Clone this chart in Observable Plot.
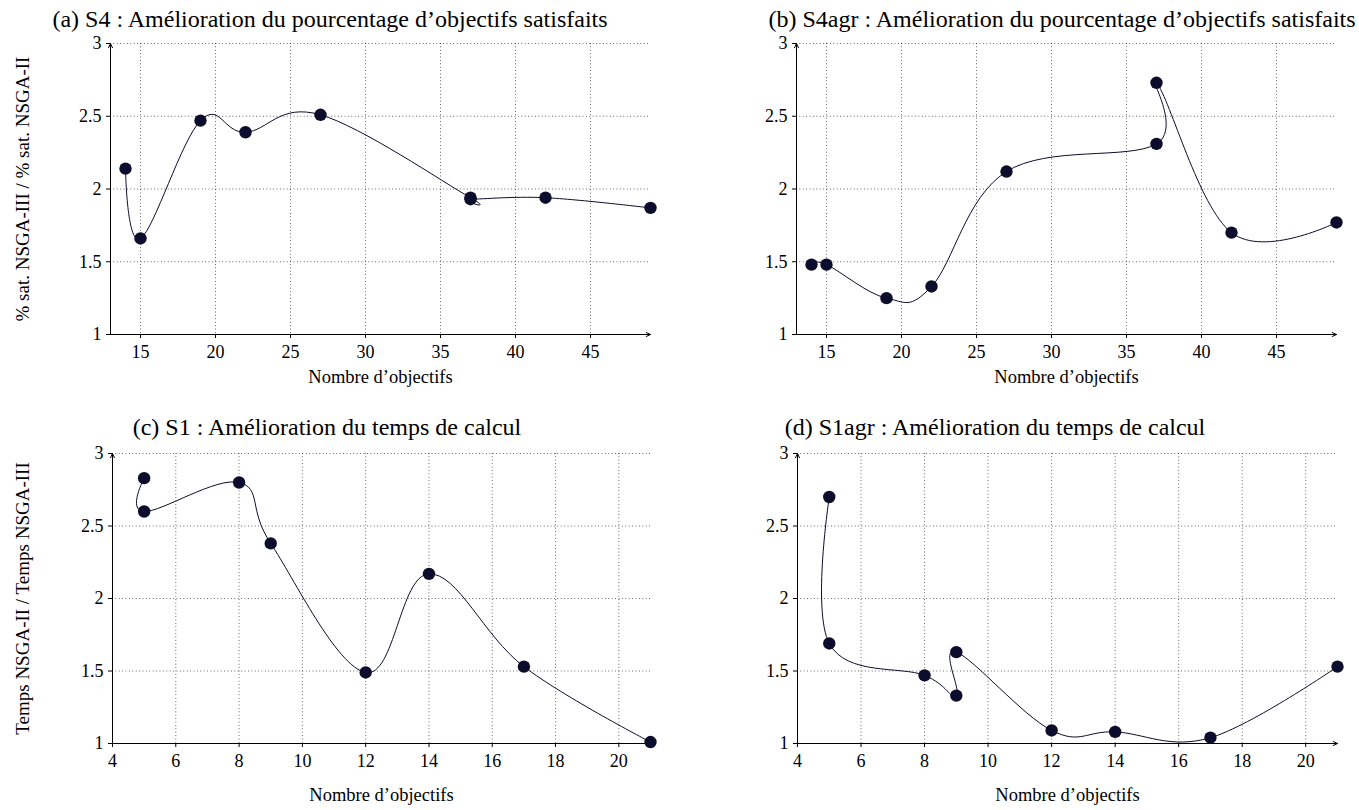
<!DOCTYPE html>
<html><head><meta charset="utf-8">
<script src="https://cdn.jsdelivr.net/npm/d3@7"></script>
<script src="https://cdn.jsdelivr.net/npm/@observablehq/plot@0.6"></script>
<style>
html,body{margin:0;padding:0;background:#fff;}
body{width:1359px;height:810px;position:relative;overflow:hidden;font-family:"Liberation Serif","Times New Roman",serif;color:#000;}
.panel{position:absolute;}
.title{position:absolute;font-size:24px;line-height:24px;white-space:nowrap;transform:translateX(-50%);}
</style></head><body>
<script>
// ---- data ----
const titles = [
  "(a) S4 : Amélioration du pourcentage d’objectifs satisfaits",
  "(b) S4agr : Amélioration du pourcentage d’objectifs satisfaits",
  "(c) S1 : Amélioration du temps de calcul",
  "(d) S1agr : Amélioration du temps de calcul"
];
const xLabel = "Nombre d’objectifs";
const yLabelTop = "% sat. NSGA-III / % sat. NSGA-II";
const yLabelBottom = "Temps NSGA-II / Temps NSGA-III";

const aX = [14, 15, 19, 22, 27, 37, 37, 42, 49];
const aY = [2.14, 1.66, 2.47, 2.39, 2.51, 1.94, 1.93, 1.94, 1.87];

const bX = [14, 15, 19, 22, 27, 37, 37, 42, 49];
const bY = [1.48, 1.48, 1.25, 1.33, 2.12, 2.31, 2.73, 1.70, 1.77];

const cX = [5, 5, 8, 9, 12, 14, 17, 21];
const cY = [2.83, 2.60, 2.80, 2.38, 1.49, 2.17, 1.53, 1.01];

const dX = [5, 5, 8, 9, 9, 12, 14, 17, 21];
const dY = [2.70, 1.69, 1.47, 1.33, 1.63, 1.09, 1.08, 1.04, 1.53];

const topXDomain = [13, 49];
const topXTicks = [15, 20, 25, 30, 35, 40, 45];
const botXDomain = [4, 21];
const botXTicks = [4, 6, 8, 10, 12, 14, 16, 18, 20];
const yDomain = [1, 3];
const yTicks = [1, 1.5, 2, 2.5, 3];

const ink = "#0c0c2c";

function makePanel(cfg) {
  const data = cfg.xs.map((x, i) => ({x, y: cfg.ys[i]}));
  const [x0, x1] = cfg.xDomain;
  const [y0, y1] = yDomain;
  const grid = {stroke: "#000", strokeOpacity: 0.9, strokeWidth: 0.8, strokeDasharray: "0.8,2.6"};
  const marks = [
    Plot.gridX(cfg.xTicks, grid),
    Plot.gridY(yTicks, grid),
    Plot.axisX({ticks: cfg.xTicks, tickSize: 4, tickPadding: 7, label: null, fontSize: 18}),
    Plot.axisY({ticks: yTicks, tickSize: 4, tickPadding: 5, tickFormat: d => String(d), label: null, fontSize: 18}),
    Plot.arrow([{x1: x0, y1: y0, x2: x1, y2: y0}], {x1: "x1", y1: "y1", x2: "x2", y2: "y2", headLength: 7, headAngle: 50, strokeWidth: 1, stroke: "#000"}),
    Plot.arrow([{x1: x0, y1: y0, x2: x0, y2: y1}], {x1: "x1", y1: "y1", x2: "x2", y2: "y2", headLength: 7, headAngle: 50, strokeWidth: 1, stroke: "#000"}),
    Plot.line(data, {x: "x", y: "y", curve: "cardinal", tension: -0.1, stroke: ink, strokeWidth: 1}),
    Plot.dot(data, {x: "x", y: "y", r: 6.2, fill: ink, stroke: "none"}),
    Plot.text([xLabel], {text: d => d, frameAnchor: "bottom", dy: cfg.labelDy, fontSize: 18.5})
  ];
  if (cfg.yLabel) {
    marks.push(Plot.text([cfg.yLabel], {text: d => d, frameAnchor: "left", textAnchor: "middle", lineAnchor: "middle", dx: -cfg.ml + 22, rotate: -90, fontSize: 19}));
  }
  const svg = Plot.plot({
    width: cfg.width, height: cfg.height,
    marginLeft: cfg.ml, marginRight: cfg.mr, marginTop: cfg.mt, marginBottom: cfg.mb,
    style: {fontFamily: "'Liberation Serif', serif", fontSize: "18px", color: "#000", background: "transparent", overflow: "visible"},
    x: {domain: cfg.xDomain},
    y: {domain: yDomain},
    marks
  });
  const div = document.createElement("div");
  div.className = "panel";
  div.style.left = cfg.left + "px";
  div.style.top = cfg.top + "px";
  div.appendChild(svg);
  document.body.appendChild(div);
}

function addTitle(text, cx, top) {
  const t = document.createElement("div");
  t.className = "title";
  t.textContent = text;
  t.style.left = cx + "px";
  t.style.top = top + "px";
  document.body.appendChild(t);
}

makePanel({xs: aX, ys: aY, xDomain: topXDomain, xTicks: topXTicks, yLabel: yLabelTop, labelDy: 48,
  left: 0, top: 30, width: 680, height: 380, ml: 110, mr: 30, mt: 13, mb: 76});
makePanel({xs: bX, ys: bY, xDomain: topXDomain, xTicks: topXTicks, yLabel: null, labelDy: 48,
  left: 680, top: 30, width: 679, height: 380, ml: 116, mr: 23, mt: 13, mb: 76});
makePanel({xs: cX, ys: cY, xDomain: botXDomain, xTicks: botXTicks, yLabel: yLabelBottom, labelDy: 57,
  left: 0, top: 440, width: 680, height: 370, ml: 112, mr: 30, mt: 13, mb: 67});
makePanel({xs: dX, ys: dY, xDomain: botXDomain, xTicks: botXTicks, yLabel: null, labelDy: 57,
  left: 680, top: 440, width: 679, height: 370, ml: 117, mr: 22, mt: 13, mb: 67});

addTitle(titles[0], 330, 7);
addTitle(titles[1], 1062, 7);
addTitle(titles[2], 327, 415);
addTitle(titles[3], 995, 415);
</script>
</body></html>
